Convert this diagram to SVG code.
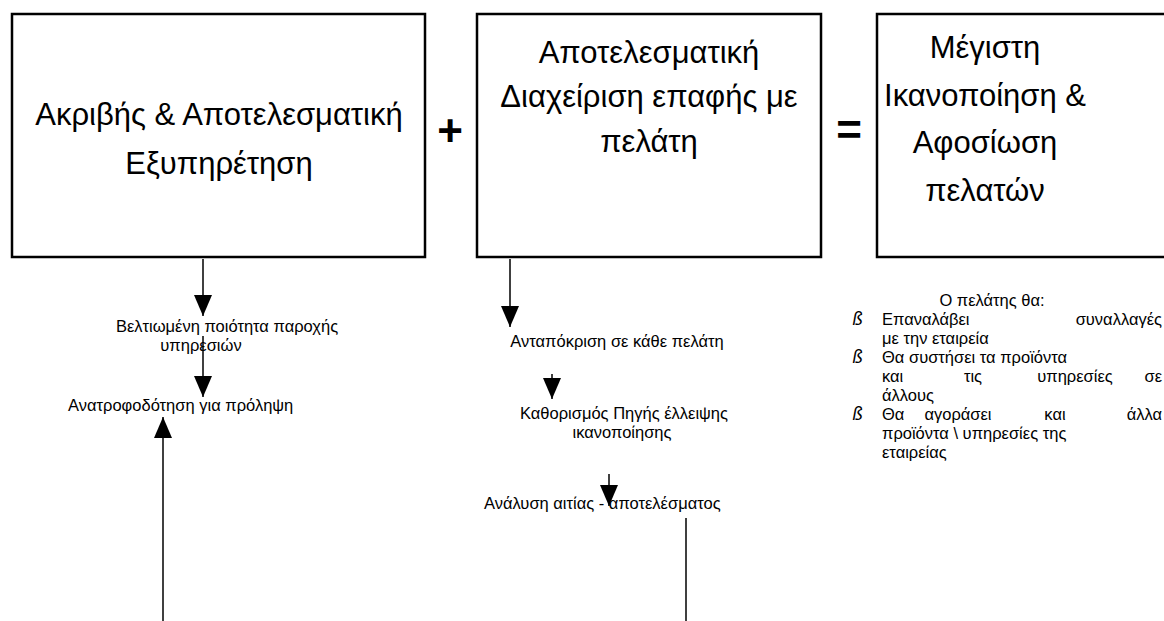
<svg xmlns="http://www.w3.org/2000/svg" width="1164" height="621" viewBox="0 0 1164 621">
<style>
.box{fill:#fff;stroke:#000;stroke-width:2.5}
.bt{font-family:"Liberation Sans",Arial,sans-serif;font-size:31px;fill:#000;text-anchor:middle}
.st{font-family:"Liberation Sans",Arial,sans-serif;font-size:16.5px;fill:#000}
.mid{text-anchor:middle}
.end{text-anchor:end}
.op{font-family:"Liberation Sans",Arial,sans-serif;font-weight:bold;font-size:44px;fill:#000;text-anchor:middle}
.bul{font-family:"DejaVu Sans",sans-serif;font-style:italic;font-size:17px;fill:#000}
.ln{stroke:#000;stroke-width:1.5;fill:none}
</style>
<defs>
<marker id="ah" markerUnits="userSpaceOnUse" markerWidth="22" markerHeight="18" viewBox="0 0 22 18" refX="21" refY="9" orient="auto">
<path d="M0,0 L21,9 L0,18 Z" fill="#000"/>
</marker>
</defs>
<rect width="1164" height="621" fill="#fff"/>

<g id="box1">
<rect class="box" x="12" y="14" width="413" height="243"/>
<text class="bt" x="219" y="125">Ακριβής &amp; Αποτελεσματική</text>
<text class="bt" x="219" y="174">Εξυπηρέτηση</text>
</g>

<g id="plus"><text class="op" x="450" y="146">+</text></g>

<g id="box2">
<rect class="box" x="477" y="14" width="344" height="243"/>
<text class="bt" x="649" y="63">Αποτελεσματική</text>
<text class="bt" x="649" y="107">Διαχείριση επαφής με</text>
<text class="bt" x="649" y="152">πελάτη</text>
</g>

<g id="equals"><text class="op" x="849" y="145">=</text></g>

<g id="box3">
<rect class="box" x="877" y="14" width="344" height="243"/>
<text class="bt" x="985" y="58">Μέγιστη</text>
<text class="bt" x="985" y="106">Ικανοποίηση &amp;</text>
<text class="bt" x="985" y="153">Αφοσίωση</text>
<text class="bt" x="985" y="201">πελατών</text>
</g>

<g id="left-texts">
<text class="st mid" x="227" y="332">Βελτιωμένη ποιότητα παροχής</text>
<text class="st mid" x="201" y="351">υπηρεσιών</text>
<text class="st" x="68" y="411">Ανατροφοδότηση για πρόληψη</text>
</g>

<g id="middle-texts">
<text class="st mid" x="617" y="347">Ανταπόκριση σε κάθε πελάτη</text>
<text class="st mid" x="624" y="419">Καθορισμός Πηγής έλλειψης</text>
<text class="st mid" x="622" y="438">ικανοποίησης</text>
<text class="st" x="484" y="509">Ανάλυση αιτίας - αποτελέσματος</text>
</g>

<g id="right-list">
<text class="st mid" x="992" y="306">Ο πελάτης θα:</text>
<text class="bul" x="852" y="325">ß</text>
<text class="st" x="882" y="325">Επαναλάβει</text>
<text class="st end" x="1162" y="325">συναλλαγές</text>
<text class="st" x="882" y="344">με την εταιρεία</text>
<text class="bul" x="852" y="363">ß</text>
<text class="st" x="882" y="363">Θα συστήσει τα προϊόντα</text>
<text class="st" x="882" y="382">και</text>
<text class="st mid" x="973" y="382">τις</text>
<text class="st mid" x="1075" y="382">υπηρεσίες</text>
<text class="st end" x="1162" y="382">σε</text>
<text class="st" x="882" y="401">άλλους</text>
<text class="bul" x="852" y="420">ß</text>
<text class="st" x="882" y="420">Θα</text>
<text class="st mid" x="958" y="420">αγοράσει</text>
<text class="st mid" x="1055" y="420">και</text>
<text class="st end" x="1162" y="420">άλλα</text>
<text class="st" x="882" y="439">προϊόντα \ υπηρεσίες της</text>
<text class="st" x="882" y="458">εταιρείας</text>
</g>

<g id="connectors">
<line class="ln" x1="203" y1="259" x2="203" y2="316" marker-end="url(#ah)"/>
<line class="ln" x1="203" y1="336" x2="203" y2="397" marker-end="url(#ah)"/>
<line class="ln" x1="163" y1="621" x2="163" y2="417" marker-end="url(#ah)"/>
<line class="ln" x1="510" y1="259" x2="510" y2="327" marker-end="url(#ah)"/>
<line class="ln" x1="552" y1="374" x2="552" y2="399" marker-end="url(#ah)"/>
<line class="ln" x1="609" y1="474" x2="609" y2="506" marker-end="url(#ah)"/>
<line class="ln" x1="686" y1="518" x2="686" y2="621"/>
</g>
</svg>
